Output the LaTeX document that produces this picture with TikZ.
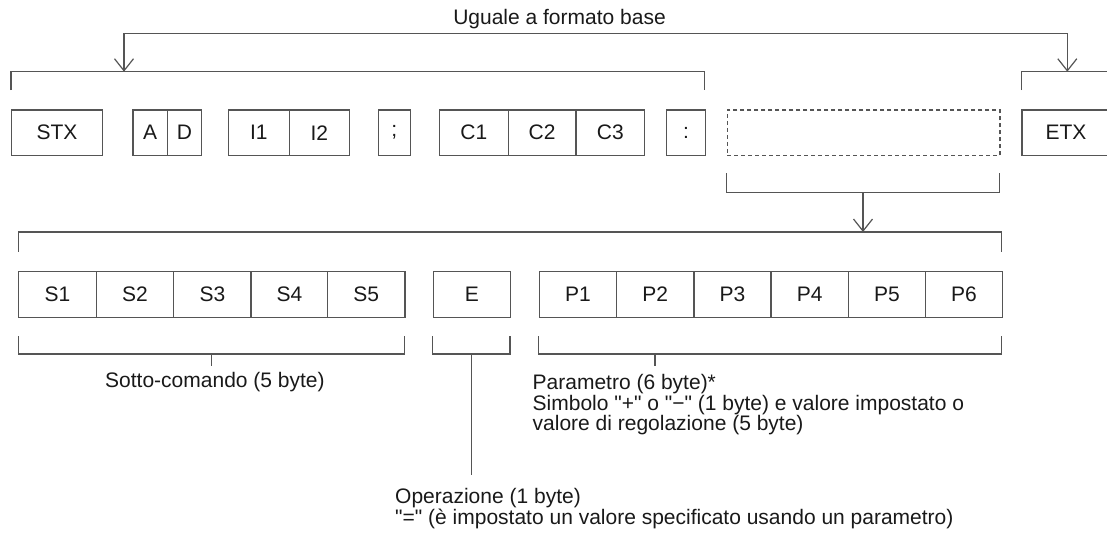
\documentclass[tikz,border=0pt]{standalone}
\usepackage{fontspec}
\newfontfamily\lsans{Liberation Sans}
\usetikzlibrary{arrows.meta}
\definecolor{ln}{RGB}{85,85,85}
\definecolor{tx}{RGB}{25,25,25}
\begin{document}
\begin{tikzpicture}[x=1pt,y=-1pt,
  every node/.style={font=\lsans\fontsize{21}{21}\selectfont, text=tx},
  cell/.style={draw=ln, line width=1.2pt, minimum height=45.7pt, inner sep=0pt, anchor=north west},
  dcell/.style={cell, dash pattern=on 4pt off 3pt},
  br/.style={draw=ln, line width=1.2pt},
  arr/.style={draw=ln, line width=1.2pt, -{Straight Barb[length=12pt,width=19pt,line width=1.2pt]}},
  arrboth/.style={draw=ln, line width=1.2pt, {Straight Barb[length=12pt,width=19pt,line width=1.2pt]}-{Straight Barb[length=12pt,width=19pt,line width=1.2pt]}},
  lbl/.style={anchor=base west, inner sep=0pt},
]
\useasboundingbox (0,0) rectangle (1107,535);

% top row
\node[cell, minimum width=90.7pt] (stx) at (11,109.3) {STX};
\node[cell, minimum width=34.4pt] (a) at (132.3,109.3) {A};
\node[cell, minimum width=34.3pt] (d) at (166.7,109.3) {D};
\node[cell, minimum width=60.6pt] (i1) at (228,109.3) {I1};
\node[cell, minimum width=60.4pt] (i2) at (288.6,109.3) {I2};
\node[cell, minimum width=32.5pt] (semi) at (377.5,109.3) {;};
\node[cell, minimum width=68.5pt] (c1) at (439,109.3) {C1};
\node[cell, minimum width=67.9pt] (c2) at (507.5,109.3) {C2};
\node[cell, minimum width=68.8pt] (c3) at (575.4,109.3) {C3};
\node[cell, minimum width=38.4pt] (colon) at (666.2,109.3) {:};
\node[dcell, minimum width=272.7pt] (dbox) at (726.6,109.3) {};
\node[cell, minimum width=88pt] (etx) at (1021.4,109.3) {ETX};

% second row
\node[cell, minimum width=77.5pt] (s1) at (18.2,271) {S1};
\node[cell, minimum width=77.5pt] (s2) at (95.7,271) {S2};
\node[cell, minimum width=77.2pt] (s3) at (173.2,271) {S3};
\node[cell, minimum width=76.7pt] (s4) at (250.4,271) {S4};
\node[cell, minimum width=77.2pt] (s5) at (327.1,271) {S5};
\node[cell, minimum width=77.3pt] (e) at (432.7,271) {E};
\node[cell, minimum width=77.3pt] (p1) at (538.7,271) {P1};
\node[cell, minimum width=77.3pt] (p2) at (616,271) {P2};
\node[cell, minimum width=77.1pt] (p3) at (693.3,271) {P3};
\node[cell, minimum width=77.4pt] (p4) at (770.4,271) {P4};
\node[cell, minimum width=77pt] (p5) at (847.8,271) {P5};
\node[cell, minimum width=77pt] (p6) at (924.8,271) {P6};

% brackets, top
\draw[br] (11,90) -- (11,71.7) -- (704.6,71.7) -- (704.6,90);
\draw[br] (1021.4,90) -- (1021.4,71.7) -- (1112,71.7);
\coordinate (tl) at (124,71.7);
\coordinate (tm) at (600,33.3);
\coordinate (tr) at (1067.3,71.7);
\draw[arrboth] (tl) |- (tm) -| (tr);

% bracket under dashed box and arrow to big bracket
\draw[br] (726.6,173.3) -- (726.6,192.7) -- (999.3,192.7) -- (999.3,173.3);
\coordinate (da) at (863,192.7);
\coordinate (db) at (863,232);
\draw[arr] (da) -- (db);
\draw[br] (18.2,251.7) -- (18.2,232) -- (1001.8,232) -- (1001.8,251.7);

% bottom brackets
\draw[br] (18.2,336) -- (18.2,354) -- (404.3,354) -- (404.3,336);
\draw[br] (211.4,354) -- (211.4,366);
\draw[br] (432.7,336) -- (432.7,354) -- (510,354) -- (510,336);
\draw[br] (471.5,354) -- (471.5,475);
\draw[br] (538.7,336) -- (538.7,354) -- (1001.8,354) -- (1001.8,336);
\draw[br] (655,354) -- (655,366);

% labels
\node[anchor=base, inner sep=0pt] (title) at (559.5,25) {Uguale a formato base};
\node[lbl] (sub) at (105,387.3) {Sotto-comando (5 byte)};
\node[lbl] (par1) at (532.5,389.5) {Parametro (6 byte)*};
\node[lbl] (par2) at (532.5,410) {Simbolo "+" o "\char"2212" (1 byte) e valore impostato o};
\node[lbl] (par3) at (532.5,430.5) {valore di regolazione (5 byte)};
\node[lbl] (op1) at (395,503.3) {Operazione (1 byte)};
\node[lbl] (op2) at (395,524) {"=" (è impostato un valore specificato usando un parametro)};
\end{tikzpicture}
\end{document}
